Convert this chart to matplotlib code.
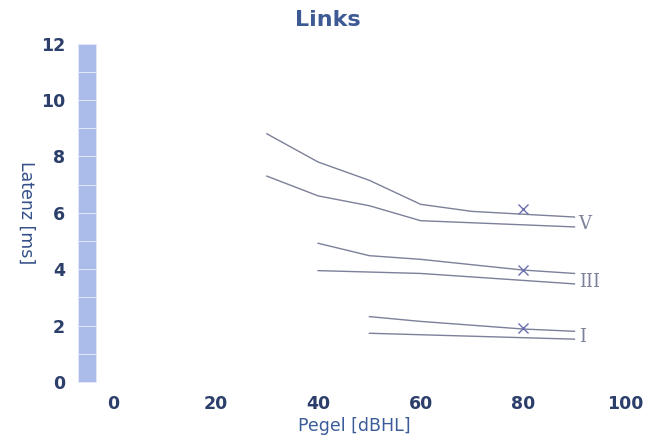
import numpy as np
import matplotlib
matplotlib.use("Agg")
import matplotlib.pyplot as plt

# Welle V
v_hi_x = [30, 40, 50, 60, 70, 90]
v_hi_y = [8.8, 7.8, 7.15, 6.3, 6.05, 5.85]
v_lo_x = [30, 40, 50, 60, 90]
v_lo_y = [7.3, 6.6, 6.25, 5.72, 5.5]
# Welle III
iii_hi_x = [40, 50, 60, 80, 90]
iii_hi_y = [4.92, 4.48, 4.35, 3.97, 3.85]
iii_lo_x = [40, 60, 90]
iii_lo_y = [3.95, 3.85, 3.48]
# Welle I
i_hi_x = [50, 60, 80, 90]
i_hi_y = [2.32, 2.15, 1.88, 1.8]
i_lo_x = [50, 90]
i_lo_y = [1.73, 1.52]
# gemessene Punkte
mark_x = [80, 80, 80]
mark_y = [6.12, 3.97, 1.9]
wave_labels = ["V", "III", "I"]
wave_label_y = [5.6, 3.55, 1.6]

xticks = [0, 20, 40, 60, 80, 100]
yticks = [0, 2, 4, 6, 8, 10, 12]

fig = plt.figure(figsize=(6.59, 4.48), dpi=100)
ax = fig.add_axes([0.1093, 0.1283, 0.8558, 0.7934])

# Skala links als blaue Saeule aus Einzelsegmenten
for k in range(12):
    ax.bar(-5.1, 1, width=3.6, bottom=k, color="#abbbea",
           edgecolor="#e2e8f8", linewidth=0.7)

line_col = "#7c8099"
for xs, ys in [(v_hi_x, v_hi_y), (v_lo_x, v_lo_y), (iii_hi_x, iii_hi_y),
               (iii_lo_x, iii_lo_y), (i_hi_x, i_hi_y), (i_lo_x, i_lo_y)]:
    ax.plot(xs, ys, color=line_col, lw=1.0)

ax.plot(mark_x, mark_y, "x", color="#6a6fb0", ms=7, mew=1.0)

for lab, yy in zip(wave_labels, wave_label_y):
    ax.text(90.8, yy, lab, color="#7c8099", fontsize=13, family="DejaVu Serif",
            ha="left", va="center")

ax.set_xlim(-8, 102)
ax.set_ylim(-0.3, 12.3)
ax.set_xticks(xticks)
ax.set_yticks(yticks)
for s in ax.spines.values():
    s.set_visible(False)
ax.tick_params(length=0, labelsize=12.5, colors="#2c3f6b")
ax.tick_params(axis="x", pad=3)
ax.tick_params(axis="y", pad=5)
for t in ax.get_xticklabels() + ax.get_yticklabels():
    t.set_fontweight("bold")

ax.set_xlabel("Pegel [dBHL]", color="#3a5c98", fontsize=12.5, labelpad=3)
ax.set_ylabel("Latenz [ms]", color="#34508a", fontsize=12.5, rotation=270,
              va="center")
ax.yaxis.set_label_coords(-0.082, 0.5)
fig.text(0.498, 0.955, "Links", color="#3d5a94", fontsize=16,
         fontweight="bold", ha="center", va="center")

fig.savefig("out.png", dpi=100)
